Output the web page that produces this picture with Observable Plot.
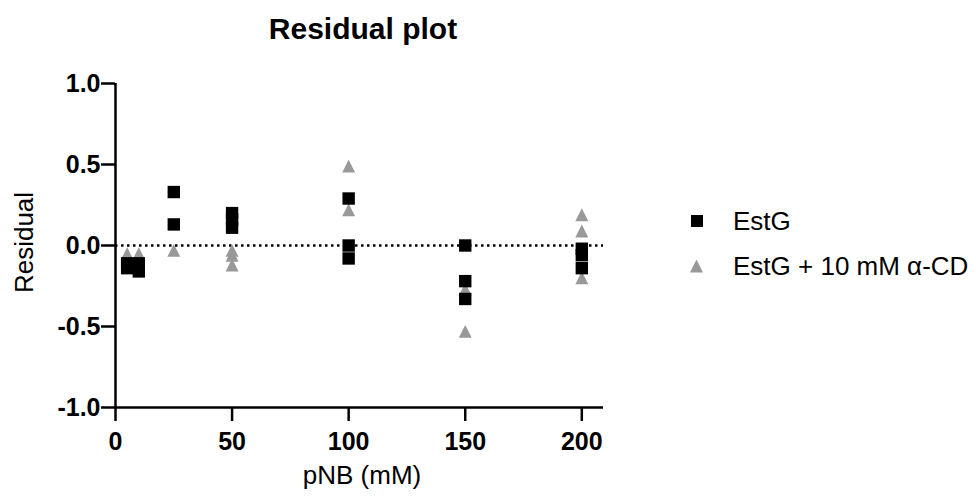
<!DOCTYPE html>
<html><head><meta charset="utf-8">
<script src="https://cdn.jsdelivr.net/npm/d3@7"></script>
<script src="https://cdn.jsdelivr.net/npm/@observablehq/plot@0.6"></script>
<style>
body{margin:0;background:#fff;}
#wrap{position:relative;width:976px;height:497px;font-family:"Liberation Sans",Arial,Helvetica,sans-serif;}
#legend{position:absolute;left:0;top:0;pointer-events:none;}
</style></head><body><div id="wrap"></div>
<script>
const title = "Residual plot";
const xLabel = "pNB (mM)";
const yLabel = "Residual";
const seriesNames = ["EstG", "EstG + 10 mM α-CD"];
const seriesColors = ["#000000", "#999999"];
const estgX = [5, 5, 10, 10, 25, 25, 50, 50, 50, 100, 100, 100, 150, 150, 150, 200, 200, 200];
const estgY = [-0.11, -0.14, -0.11, -0.16, 0.33, 0.13, 0.20, 0.16, 0.11, 0.29, 0.0, -0.08, 0.0, -0.22, -0.33, -0.02, -0.06, -0.14];
const cdX = [5, 10, 25, 50, 50, 50, 100, 100, 150, 150, 200, 200, 200];
const cdY = [-0.05, -0.05, -0.03, -0.03, -0.06, -0.12, 0.49, 0.22, -0.27, -0.53, 0.19, 0.09, -0.20];
const xTicks = [0, 50, 100, 150, 200];
const yTicks = [-1, -0.5, 0, 0.5, 1];

const estg = estgX.map((x, i) => ({x, y: estgY[i]}));
const cd = cdX.map((x, i) => ({x, y: cdY[i]}));

const triangle = {draw(ctx, size) { const h = Math.sqrt(size); ctx.moveTo(0, -h / 2); ctx.lineTo(h / 2, h / 2); ctx.lineTo(-h / 2, h / 2); ctx.closePath(); }};
const font = "'Liberation Sans', Arial, Helvetica, sans-serif";

const chart = Plot.plot({
  width: 976, height: 497,
  marginLeft: 115, marginRight: 373, marginTop: 83, marginBottom: 90,
  x: {domain: [0, 209.3]},
  y: {domain: [-1, 1]},
  style: {fontFamily: font, background: "#fff", color: "#000"},
  marks: [
    Plot.ruleY([0], {stroke: "#000", strokeWidth: 2.5, strokeDasharray: "2.5,3.5"}),
    Plot.dot(cd, {x: "x", y: "y", symbol: triangle, r: 7.3, fill: seriesColors[1], stroke: null}),
    Plot.dot(estg, {x: "x", y: "y", symbol: "square", r: 7, fill: seriesColors[0], stroke: null}),
    Plot.ruleX([0], {stroke: "#000", strokeWidth: 2.5}),
    Plot.ruleY([-1], {stroke: "#000", strokeWidth: 2.5}),
    Plot.axisX({ticks: xTicks, tickSize: 14, tickPadding: 11, strokeWidth: 2.5, fontSize: 25, fontWeight: "bold", label: null, tickFormat: d => String(d)}),
    Plot.axisY({ticks: yTicks, tickSize: 14, tickPadding: 1, strokeWidth: 2.5, fontSize: 25, fontWeight: "bold", label: null, tickFormat: d => d.toFixed(1)}),
    Plot.text([title], {text: d => d, frameAnchor: "top", lineAnchor: "bottom", dy: -45, dx: 3.5, fontSize: 30, fontWeight: "bold"}),
    Plot.text([xLabel], {text: d => d, frameAnchor: "bottom", lineAnchor: "bottom", dy: 76.5, dx: 2.5, fontSize: 26}),
    Plot.text([yLabel], {text: d => d, frameAnchor: "left", textAnchor: "middle", lineAnchor: "bottom", rotate: -90, dx: -82.5, dy: -3, fontSize: 26})
  ]
});
const wrap = document.getElementById("wrap");
wrap.appendChild(chart);

// legend overlay
const lg = d3.select(wrap).append("svg").attr("id", "legend").attr("width", 976).attr("height", 497);
const rows = [{cy: 221, base: 229.5}, {cy: 266, base: 275}];
seriesNames.forEach((name, i) => {
  const r = rows[i];
  if (i === 0) {
    lg.append("rect").attr("x", 691).attr("y", r.cy - 6).attr("width", 12).attr("height", 12).attr("fill", seriesColors[0]);
  } else {
    lg.append("path").attr("d", `M696.5,${r.cy - 6.5}L703,${r.cy + 6.5}L690,${r.cy + 6.5}Z`).attr("fill", seriesColors[1]);
  }
  lg.append("text").attr("x", 733).attr("y", r.base).attr("font-family", font).attr("font-size", 26).attr("fill", "#000").text(name);
});
</script></body></html>
